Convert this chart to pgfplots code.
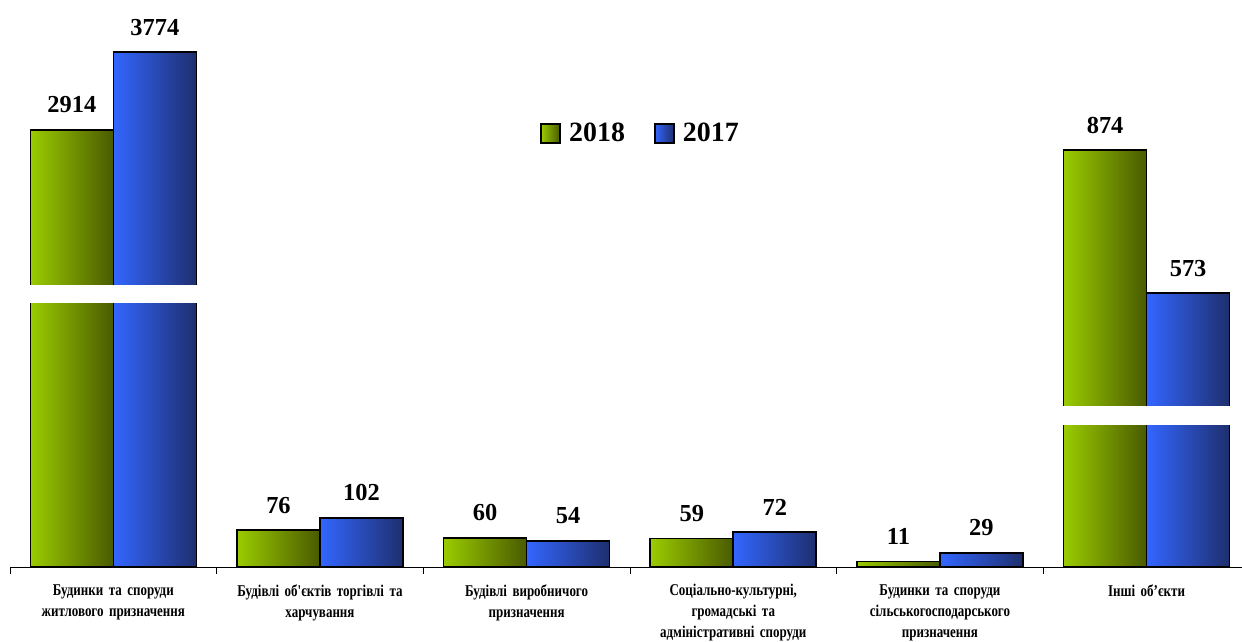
\documentclass[border=0pt]{standalone}
\usepackage{pgfplots}
\pgfplotsset{compat=1.18}
\usepackage{pgfplotstable}
\usepackage{fontspec}
\setmainfont{Liberation Serif}
\newfontfamily\catfont[FakeStretch=0.79]{Liberation Serif}
\definecolor{gL}{HTML}{9ACC00}
\definecolor{gR}{HTML}{4A5A00}
\definecolor{bL}{HTML}{3366FF}
\definecolor{bR}{HTML}{1E2F6E}

% h = drawn height (axis is broken for the tall bars), v = value
\pgfplotstableread{
x h v
0 904.8 2914
1 76 76
2 60 60
3 59 59
4 11 11
5 863 874
}\dataA
\pgfplotstableread{
x h v
0 1066 3774
1 102 102
2 54 54
3 72 72
4 29 29
5 567 573
}\dataB

\begin{document}
\begin{tikzpicture}
\begin{axis}[
  at={(10bp,75bp)}, anchor=south west,
  scale only axis, width=1240bp, height=567bp,
  xmin=-0.5, xmax=5.5, ymin=0, ymax=1174,
  clip=false,
  axis x line*=bottom, axis y line=none,
  x axis line style={black, line width=0.8bp},
  ybar=0pt, bar width=83bp,
  xtick={0,...,5}, major tick length=0pt,
  minor xtick={-0.5,0.5,...,5.5}, minor tick length=7bp, tick align=outside,
  minor tick style={black, line width=0.8bp},
  xticklabels={
    {Будинки та споруди\\житлового призначення},
    {Будівлі об'єктів торгівлі та\\харчування},
    {Будівлі виробничого\\призначення},
    {Соціально-культурні,\\громадські та\\адміністративні споруди},
    {Будинки та споруди\\сільськогосподарського\\призначення},
    {Інші об’єкти}},
  xticklabel style={text width=200bp, align=center, anchor=north,
    font=\catfont\fontsize{16.5}{21}\selectfont\bfseries, yshift=-14bp},
  point meta=explicit symbolic,
  nodes near coords,
  every node near coord/.append style={font=\fontsize{24.5}{26}\selectfont\bfseries,
    anchor=south, inner sep=0pt, yshift=16bp, black},
  legend style={at={(0.5085,0.765)}, anchor=center, draw=none, fill=none,
    font=\fontsize{28}{30}\selectfont\bfseries,
    /tikz/every even column/.append style={column sep=27bp}},
  legend columns=2,
  legend image code/.code={\draw[#1, line width=1.5bp] (0bp,-10bp) rectangle (19bp,9bp);
    \path (26bp,0bp);},
]
\pgfplotsinvokeforeach{0,...,5}{
\addplot[draw=black, line width=1.6bp, left color=gL, right color=gR,
  bar shift=-41.5bp, forget plot]
  table[x=x, y=h, meta=v, restrict expr to domain={\coordindex}{#1:#1}] {\dataA};
\addplot[draw=black, line width=1.6bp, left color=bL, right color=bR,
  bar shift=41.5bp, forget plot]
  table[x=x, y=h, meta=v, restrict expr to domain={\coordindex}{#1:#1}] {\dataB};
}
\addlegendimage{draw=black, left color=gL, right color=gR}
\addlegendentry{2018}
\addlegendimage{draw=black, left color=bL, right color=bR}
\addlegendentry{2017}
\fill[white] (axis cs:-0.42,547) rectangle (axis cs:0.41,584);
\fill[white] (axis cs:4.59,294) rectangle (axis cs:5.41,333);
\end{axis}
\pgfresetboundingbox
\path[use as bounding box] (0,0) rectangle (1242bp,642bp);
\end{tikzpicture}
\end{document}
